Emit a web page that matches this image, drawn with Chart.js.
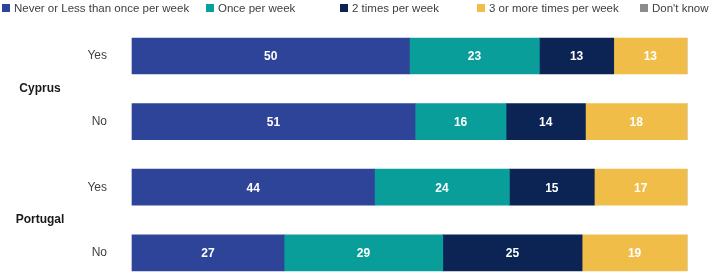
<!DOCTYPE html>
<html>
<head>
<meta charset="utf-8">
<script src="https://cdn.jsdelivr.net/npm/chart.js@4/dist/chart.umd.min.js"></script>
<style>
  html, body { margin: 0; padding: 0; background: #fff; overflow: hidden; }
  #wrap { position: relative; width: 709px; height: 277px; }
  #legend { position: absolute; left: 0; top: 0; width: 709px; height: 16px;
            font: 11.5px "Liberation Sans", Arial, sans-serif; color: #404040; }
  .item { position: absolute; top: 1px; white-space: nowrap; line-height: 14px; }
  .box { display: inline-block; width: 8px; height: 8px; margin-right: 4px; vertical-align: 0px; }
</style>
</head>
<body>
<div id="wrap">
  <div id="legend"></div>
  <canvas id="myChart" width="709" height="277"></canvas>
</div>
<script>
'use strict'

let rowLabels = ['Yes', 'No', 'Yes', 'No'];
let groupNames = ['Cyprus', 'Portugal'];
let seriesNames = ['Never or Less than once per week', 'Once per week', '2 times per week', '3 or more times per week', "Don't know"];
let seriesColors = ['#2e4499', '#0a9e9a', '#0b2454', '#f0bd48', '#8c8c8c'];

// values (labels show them rounded)
let neverVals = [50.0, 51.0, 43.7, 27.4];
let onceVals = [23.4, 16.4, 24.3, 28.6];
let twoVals = [13.4, 14.3, 15.3, 25.1];
let threeVals = [13.2, 18.3, 16.7, 18.9];
let dontKnowVals = [0, 0, 0, 0];

let legendX = [2, 206, 340, 477, 640];

let allVals = [neverVals, onceVals, twoVals, threeVals, dontKnowVals];

// legend
let legend = document.getElementById('legend');
for (let i = 0; i < seriesNames.length; i++) {
  let item = document.createElement('div');
  item.className = 'item';
  item.style.left = legendX[i] + 'px';
  let box = document.createElement('span');
  box.className = 'box';
  box.style.background = seriesColors[i];
  item.appendChild(box);
  item.appendChild(document.createTextNode(seriesNames[i]));
  legend.appendChild(item);
}

let datasets = [];
for (let i = 0; i < seriesNames.length; i++) {
  datasets.push({
    label: seriesNames[i],
    data: allVals[i],
    backgroundColor: seriesColors[i],
    borderWidth: 0,
    barThickness: 36,
    clip: false
  });
}

// white numbers in the middle of each bar
let barLabels = {
  id: 'barLabels',
  afterDatasetsDraw(chart) {
    let ctx = chart.ctx;
    ctx.save();
    ctx.font = 'bold 12px "Liberation Sans", Arial, sans-serif';
    ctx.fillStyle = '#ffffff';
    ctx.textAlign = 'center';
    ctx.textBaseline = 'middle';
    chart.data.datasets.forEach(function (ds, di) {
      let meta = chart.getDatasetMeta(di);
      meta.data.forEach(function (bar, j) {
        let v = ds.data[j];
        if (v < 1) return;
        let p = bar.getProps(['x', 'y', 'base'], true);
        ctx.fillText(String(Math.round(v)), (p.x + p.base) / 2, p.y + 1);
      });
    });
    ctx.restore();
  }
};

// country names between their two rows
let groupLabels = {
  id: 'groupLabels',
  afterDraw(chart) {
    let ctx = chart.ctx;
    let y = chart.scales.y;
    ctx.save();
    ctx.font = 'bold 12px "Liberation Sans", Arial, sans-serif';
    ctx.fillStyle = '#1a1a1a';
    ctx.textAlign = 'center';
    ctx.textBaseline = 'middle';
    for (let g = 0; g < groupNames.length; g++) {
      let mid = (y.getPixelForTick(g * 2) + y.getPixelForTick(g * 2 + 1)) / 2;
      ctx.fillText(groupNames[g], 40, mid);
    }
    ctx.restore();
  }
};

let ctx = document.getElementById('myChart').getContext('2d');
let myChart = new Chart(ctx, {
  type: 'bar',
  data: {
    labels: rowLabels,
    datasets: datasets
  },
  options: {
    indexAxis: 'y',
    responsive: false,
    animation: false,
    layout: { padding: { top: 56, bottom: 21, left: 0, right: 22 } },
    plugins: {
      legend: { display: false },
      tooltip: { enabled: false }
    },
    scales: {
      x: { stacked: true, min: 0, max: 100, display: false },
      y: {
        stacked: true,
        offset: false,
        grid: { display: false },
        border: { display: false },
        ticks: {
          padding: 17,
          color: '#404040',
          font: { size: 12, family: '"Liberation Sans", Arial, sans-serif' }
        },
        afterFit(scale) { scale.width = 132; }
      }
    }
  },
  plugins: [barLabels, groupLabels]
});
</script>
</body>
</html>
